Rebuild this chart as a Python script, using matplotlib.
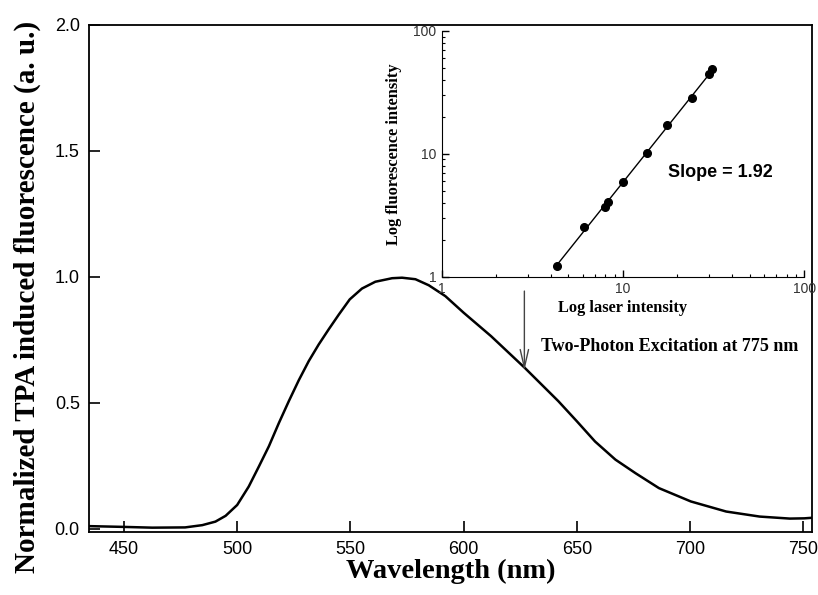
import numpy as np
import matplotlib
matplotlib.use("Agg")
import matplotlib.pyplot as plt

# TPA fluorescence spectrum
wavelength = [435, 450, 462.5, 477, 484.6, 490.4, 494.9, 500, 505.1, 509.6, 514,
              518.4, 522.8, 527.2, 531.6, 536, 540.4, 544.9, 549.7, 555.1, 561,
              568.4, 572.8, 578.7, 584.6, 591.9, 600, 612.1, 627, 634.4, 641.8,
              650, 658, 667, 675.9, 686.2, 700.3, 715.9, 730.7, 744, 750.4, 755]
fluor = [0.011, 0.008, 0.005, 0.006, 0.015, 0.029, 0.052, 0.095, 0.168, 0.248, 0.328,
         0.42, 0.507, 0.59, 0.666, 0.732, 0.792, 0.851, 0.911, 0.954, 0.981,
         0.995, 0.997, 0.991, 0.967, 0.924, 0.858, 0.765, 0.639, 0.573, 0.507,
         0.427, 0.347, 0.275, 0.221, 0.162, 0.109, 0.069, 0.049, 0.041, 0.042, 0.045]

# power dependence (inset)
laser = [4.31, 6.12, 7.99, 8.27, 10.0, 13.6, 17.6, 24.0, 29.9, 31.2]
fl_int = [1.22, 2.55, 3.71, 4.05, 5.88, 10.1, 17.1, 28.5, 44.4, 49.4]

serif = "Liberation Serif"
sans = "Liberation Sans"

fig = plt.figure(figsize=(8.18, 5.95), dpi=100)
ax = fig.add_axes([0.1094, 0.1064, 0.8833, 0.8516])
ax.plot(wavelength, fluor, color="black", lw=1.8)
ax.set_xlim(434.8, 753.8)
ax.set_ylim(-0.011, 2.0)
ax.set_xticks([450, 500, 550, 600, 650, 700, 750])
ax.set_yticks([0.0, 0.5, 1.0, 1.5, 2.0])
ax.set_yticklabels(["0.0", "0.5", "1.0", "1.5", "2.0"])
ax.tick_params(direction="in", length=8, width=1.2, labelsize=13, pad=7)
for lab in ax.get_xticklabels() + ax.get_yticklabels():
    lab.set_fontfamily(sans)
for sp in ax.spines.values():
    sp.set_linewidth(1.3)
ax.set_xlabel("Wavelength (nm)", fontfamily=serif, fontweight="bold",
              fontsize=20.5, labelpad=0)
# y label placed on the figure so it sits a bit below the axes centre
fig.text(27 / 818, 1 - 297 / 595, "Normalized TPA induced fluorescence (a. u.)",
         rotation=90, ha="center", va="center", fontfamily=serif,
         fontweight="bold", fontsize=21)

# excitation arrow + label
ax.annotate("", xy=(626.8, 0.617), xytext=(626.8, 0.955),
            arrowprops=dict(arrowstyle="->,head_length=1.3,head_width=0.3",
                            color="#444444", lw=1.0))
ax.text(634.3, 0.724, "Two-Photon Excitation at 775 nm", fontfamily=serif,
        fontweight="bold", fontsize=13, va="center", ha="left")

# inset
ins = fig.add_axes([0.540, 0.535, 0.443, 0.413])
ins.set_xscale("log")
ins.set_yscale("log")
coef = np.polyfit(np.log10(laser), np.log10(fl_int), 1)
xf = np.array([min(laser), max(laser)])
ins.plot(xf, 10 ** np.polyval(coef, np.log10(xf)), color="black", lw=1.0)
ins.plot(laser, fl_int, "o", color="black", ms=5.5)
ins.set_xlim(1, 100)
ins.set_ylim(1, 100)
ins.spines["top"].set_visible(False)
ins.spines["right"].set_visible(False)
ins.set_xticks([1, 10, 100])
ins.set_xticklabels(["1", "10", "100"])
ins.set_yticks([1, 10, 100])
ins.set_yticklabels(["1", "10", "100"])
ins.tick_params(which="major", direction="in", length=5, width=1, labelsize=10, pad=4)
ins.tick_params(which="minor", direction="in", length=2.5, width=0.8)
for lab in ins.get_xticklabels() + ins.get_yticklabels():
    lab.set_fontfamily(sans)
    lab.set_color("#333333")
ins.set_xlabel("Log laser intensity", fontfamily=serif, fontweight="bold",
               fontsize=11.8, labelpad=3)
ins.set_ylabel("Log fluorescence intensity", fontfamily=serif, fontweight="bold",
               fontsize=11.8, labelpad=8)
ins.text(0.77, 0.425, "Slope = 1.92", transform=ins.transAxes, fontfamily=sans,
         fontweight="bold", fontsize=13, ha="center", va="center")

fig.savefig("out.png", dpi=100)
